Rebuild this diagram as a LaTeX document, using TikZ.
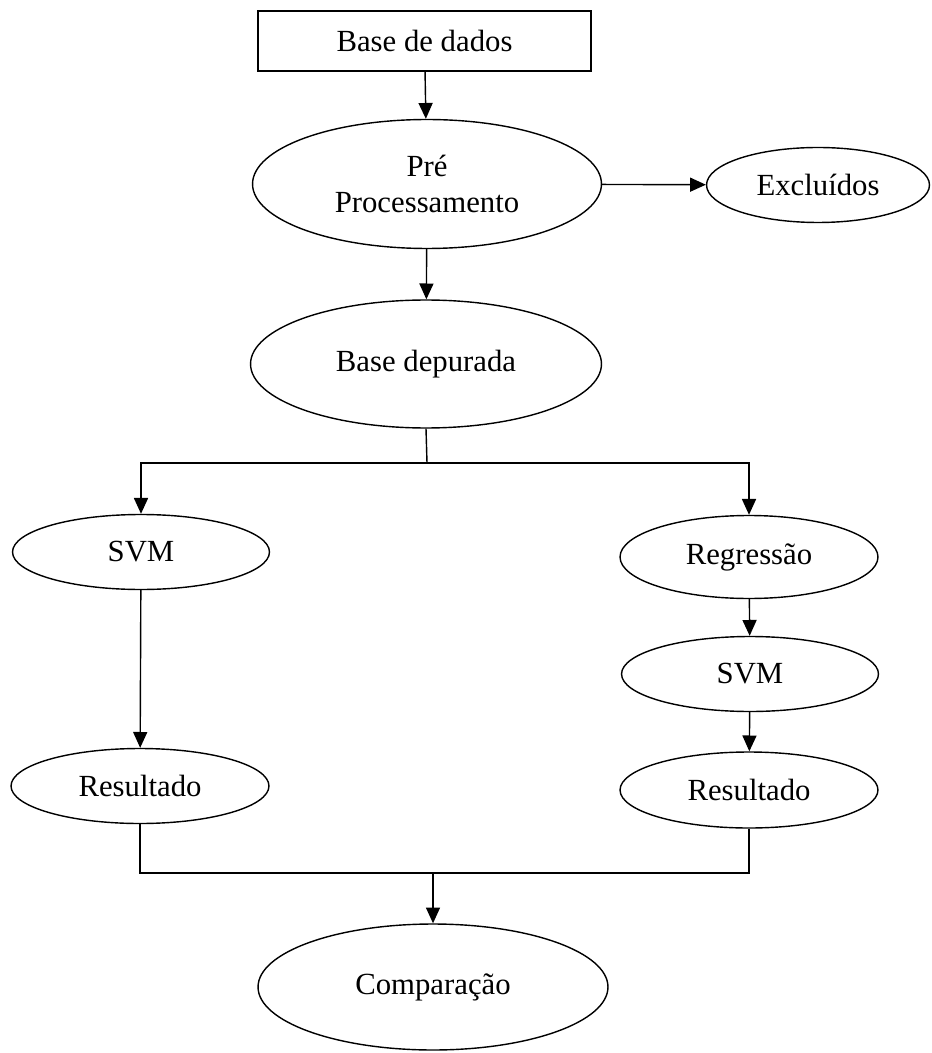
\documentclass[tikz,border=0pt]{standalone}
\usepackage{fontspec}
\setmainfont{Liberation Serif}
\usetikzlibrary{shapes.geometric, arrows.meta}

\begin{document}
\begin{tikzpicture}[x=0.02cm, y=-0.02cm,
    every node/.style={font=\fontsize{17.5}{20}\selectfont, inner sep=0pt},
    elbox/.style={draw, ellipse, line width=0.8pt},
    arr/.style={-{Triangle[width=8pt, length=9pt]}, line width=0.8pt},
    lin/.style={line width=0.8pt}]
\useasboundingbox (0,0) rectangle (931,1053);

% top part
\node[draw, line width=0.8pt, minimum width=6.66cm, minimum height=1.2cm] (db) at (424.5,41) {Base de dados};
\node[elbox, minimum width=6.98cm, minimum height=2.58cm, align=center] (pre) at (427,184) {Pré\\Processamento};
\node[elbox, minimum width=4.46cm, minimum height=1.5cm] (exc) at (818,185) {Excluídos};
\node[elbox, minimum width=7.02cm, minimum height=2.56cm] (dep) at (426,364) {Base depurada};

% left branch
\node[elbox, minimum width=5.14cm, minimum height=1.5cm] (svmA) at (141,552) {SVM};
\node[elbox, minimum width=5.16cm, minimum height=1.5cm] (resA) at (140,786) {Resultado};

% right branch
\node[elbox, minimum width=5.16cm, minimum height=1.66cm] (reg) at (749,557) {Regressão};
\node[elbox, minimum width=5.14cm, minimum height=1.5cm] (svmB) at (750,674) {SVM};
\node[elbox, minimum width=5.16cm, minimum height=1.52cm] (resB) at (749,790) {Resultado};

% bottom
\node[elbox, minimum width=7cm, minimum height=2.52cm] (comp) at (433,987) {Comparação};

\coordinate (split) at (427,463);
\coordinate (join) at (433,873);

% connectors
\draw[arr] (db) -- (pre);
\draw[arr] (pre) -- (exc);
\draw[arr] (pre) -- (dep);
\draw[lin] (dep.south) -- (split);
\draw[arr] (split) -| (svmA.north);
\draw[arr] (split) -| (reg.north);
\draw[arr] (svmA) -- (resA);
\draw[arr] (reg) -- (svmB);
\draw[arr] (svmB) -- (resB);
\draw[lin] (resA.south) |- (join) -| (resB.south);
\draw[arr] (join) -- (comp.north);
\end{tikzpicture}
\end{document}
